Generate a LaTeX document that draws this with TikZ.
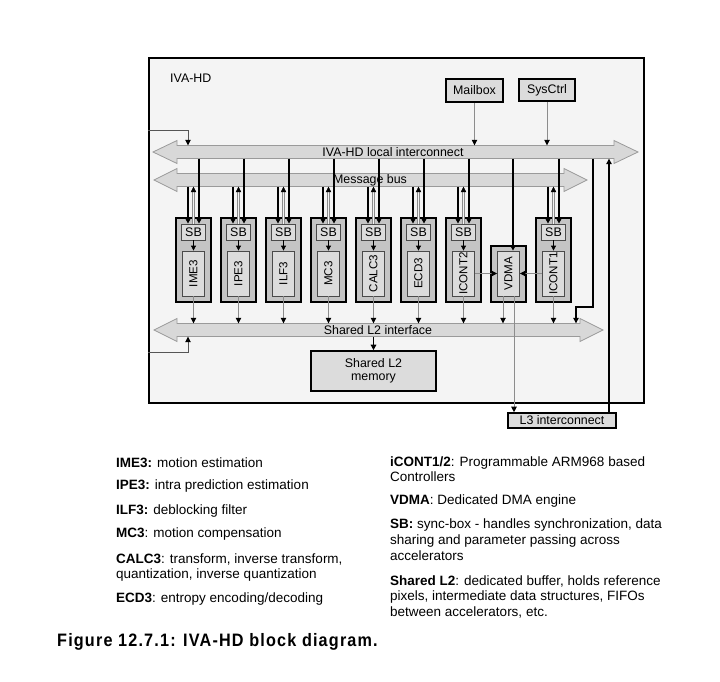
\documentclass[tikz,border=0pt]{standalone}
\usepackage{fontspec}
\usepackage{graphicx}
\setmainfont{Liberation Sans}
\newfontfamily\capfont[FakeStretch=0.9,LetterSpace=6.5]{Liberation Sans}
\usetikzlibrary{arrows.meta}
\definecolor{framefill}{HTML}{F4F4F4}
\definecolor{busfill}{HTML}{D8D8D8}
\definecolor{busline}{HTML}{9A9A9A}
\definecolor{blockfill}{HTML}{C4C4C4}
\definecolor{innerfill}{HTML}{DCDCDC}
\definecolor{innerline}{HTML}{4A4A4A}
\definecolor{thinline}{HTML}{555555}
\definecolor{grayline}{HTML}{8C8C8C}
\newcommand\lblf{\fontsize{12.4}{13.5}\selectfont}
\newcommand\rotf{\fontsize{11.6}{13}\selectfont}
\newcommand\legf{\fontsize{13.5}{16}\selectfont}
\tikzset{
  framebox/.style={draw=black, line width=2.2pt, fill=framefill, inner sep=0pt},
  blockbox/.style={draw=black, line width=1.6pt, fill=blockfill, minimum width=35pt, minimum height=84pt, inner sep=0pt},
  innerbox/.style={draw=innerline, line width=0.8pt, fill=innerfill, inner sep=0pt, font=\lblf},
  extbox/.style={draw=black, line width=1.6pt, fill=innerfill, inner sep=0pt, font=\lblf},
  bus/.style={draw=busline, line width=0.8pt, fill=busfill},
  busshaft/.style={inner sep=0pt, minimum height=13pt},
  buslbl/.style={anchor=base, inner sep=0pt, font=\lblf},
  heavy/.style={draw=black, line width=1.5pt, -{Triangle[length=5.5pt,width=5.5pt]}},
  darkarrow/.style={draw=black, line width=1.1pt, -{Triangle[length=5.5pt,width=5.5pt]}},
  lightarrow/.style={draw=grayline, line width=0.8pt, -{Triangle[length=5.5pt,width=5.5pt,color=black]}},
  smallarrow/.style={draw=black, line width=0.8pt, -{Triangle[length=5pt,width=5pt]}},
  extarrow/.style={draw=thinline, line width=0.8pt, -{Triangle[length=5.5pt,width=5.5pt,color=black]}},
  uparrow/.style={draw=grayline, line width=0.5pt, double=framefill, double distance=1.3pt, -{Triangle[length=5.5pt,width=5.5pt,color=black]}},
  leg/.style={anchor=base west, inner sep=0pt, font=\legf},
}
\begin{document}
\begin{tikzpicture}[x=1pt,y=-1pt]
\useasboundingbox (0,0) rectangle (720,682);
\fill[white] (0,0) rectangle (720,682);

% outer frame
\node[framebox, anchor=north west, minimum width=495pt, minimum height=345pt] (frame) at (148,57) {};
\node[anchor=base west, inner sep=0pt, font=\lblf] (title) at (170,83) {IVA-HD};

% buses
\draw[bus] (153,152) -- (177,140.5) -- (177,145.5) -- (614,145.5) -- (614,140.5) -- (638,152)
  -- (614,163.5) -- (614,158.5) -- (177,158.5) -- (177,163.5) -- cycle;
\node[busshaft, minimum width=437pt] (iva) at (395.5,152) {};
\node[buslbl] (ivalbl) at (393,156.5) {IVA-HD local interconnect};

\draw[bus] (154,180) -- (177,168.5) -- (177,173.5) -- (564,173.5) -- (564,168.5) -- (587,180)
  -- (564,191.5) -- (564,186.5) -- (177,186.5) -- (177,191.5) -- cycle;
\node[busshaft, minimum width=387pt] (msg) at (370.5,180) {};
\node[buslbl] (msglbl) at (370,183) {Message bus};

\draw[bus] (154,330) -- (177,318.5) -- (177,323.5) -- (580,323.5) -- (580,318.5) -- (603,330)
  -- (580,341.5) -- (580,336.5) -- (177,336.5) -- (177,341.5) -- cycle;
\node[busshaft, minimum width=403pt] (sl2) at (378.5,330) {};
\node[buslbl] (sl2lbl) at (378,334.3) {Shared L2 interface};

% top boxes
\node[extbox, minimum width=57pt, minimum height=23pt] (mb) at (474.5,90.5) {Mailbox};
\node[extbox, minimum width=56pt, minimum height=22pt] (sc) at (547,90) {SysCtrl};
\draw[lightarrow] (mb.south) -- (mb.south |- iva.north);
\draw[lightarrow] (sc.south) -- (sc.south |- iva.north);

% memory and L3
\node[extbox, minimum width=125pt, minimum height=40pt, align=center] (mem) at (373.5,371) {Shared L2\\memory};
\node[extbox, minimum width=108pt, minimum height=15pt] (l3) at (562,420.5) {L3 interconnect};

% accelerator blocks
\foreach \i/\nm in {0/IME3,1/IPE3,2/ILF3,3/MC3,4/CALC3,5/ECD3,6/ICONT2,8/ICONT1} {
  \pgfmathsetmacro\cx{193.5+45*\i}
  \node[blockbox] (blk\i) at (\cx,260) {};
  \node[innerbox, minimum width=24pt, minimum height=16pt] (sb\i) at (\cx,232) {SB};
  \node[innerbox, minimum width=22pt, minimum height=45pt, font=\rotf] (fn\i) at (\cx,273.5) {\rotatebox{90}{\nm}};
  \coordinate (a\i) at ([xshift=-5.5pt]sb\i.north);
  \coordinate (c\i) at ([xshift=5.5pt]sb\i.north);
  \draw[heavy] (a\i |- msg.south) -- (a\i);
  \draw[heavy] (c\i |- iva.south) -- (c\i);
  \draw[uparrow] (sb\i.north) -- (sb\i.north |- msg.south);
  \draw[smallarrow] (sb\i.south) -- (fn\i.north);
  \draw[lightarrow] (fn\i.south) -- (fn\i.south |- sl2.north);
}

% VDMA
\node[blockbox, minimum height=56pt] (blk7) at (508.5,274) {};
\node[innerbox, minimum width=22pt, minimum height=45pt, font=\rotf] (fn7) at (508.5,273.5) {\rotatebox{90}{VDMA}};
\coordinate (v1) at ([xshift=4.5pt]fn7.north);
\draw[heavy] (v1 |- iva.south) -- (v1);
\coordinate (v2) at ([xshift=-5.5pt]fn7.south);
\coordinate (v3) at ([xshift=5.5pt]fn7.south);
\draw[lightarrow] (v2) -- (v2 |- sl2.north);
\draw[lightarrow] (v3) -- (v3 |- l3.north);
\draw[lightarrow] (fn6.east) -- (fn7.west);
\draw[lightarrow] (fn8.west) -- (fn7.east);

% memory link
\draw[heavy] (sl2.south -| mem.north) -- (mem.north);

% L3 to interconnect
\coordinate (q) at ([xshift=47pt]l3.north);
\draw[darkarrow] (q) -- (q |- iva.south);

% interconnect to shared L2
\coordinate (r1) at (593,307);
\coordinate (r2) at (576,307);
\draw[darkarrow] (r1 |- iva.south) -- (r1) -- (r2) -- (r2 |- sl2.north);

% external links on the left
\coordinate (e1) at (148,130);
\coordinate (e2) at (148,352);
\draw[extarrow] (e1) -| (a0 |- iva.north);
\draw[extarrow] (e2) -| (a0 |- sl2.south);

% legend, left column
\node[leg] (g1) at (116,467) {\textbf{IME3:} motion estimation};
\node[leg] (g2) at (116,489.5) {\textbf{IPE3:} intra prediction estimation};
\node[leg] (g3) at (116,514) {\textbf{ILF3:} deblocking filter};
\node[leg] (g4) at (116,537.5) {\textbf{MC3}: motion compensation};
\node[leg] (g5) at (116,563) {\textbf{CALC3}: transform, inverse transform,};
\node[leg] (g6) at (116,578) {quantization, inverse quantization};
\node[leg] (g7) at (116,602) {\textbf{ECD3}: entropy encoding/decoding};

% legend, right column
\node[leg] (h1) at (390,466) {\textbf{iCONT1/2}: Programmable ARM968 based};
\node[leg] (h2) at (390,481.5) {Controllers};
\node[leg] (h3) at (390,504.5) {\textbf{VDMA}: Dedicated DMA engine};
\node[leg] (h4) at (390,528.5) {\textbf{SB:} sync-box - handles synchronization, data};
\node[leg] (h5) at (390,544.5) {sharing and parameter passing across};
\node[leg] (h6) at (390,560) {accelerators};
\node[leg] (h7) at (390,585) {\textbf{Shared L2}: dedicated buffer, holds reference};
\node[leg] (h8) at (390,600.5) {pixels, intermediate data structures, FIFOs};
\node[leg] (h9) at (390,616.5) {between accelerators, etc.};

% caption
\node[anchor=base west, inner sep=0pt, font=\capfont\bfseries\fontsize{18}{20}\selectfont] (cap) at (57,646) {Figure 12.7.1: IVA-HD block diagram.};
\end{tikzpicture}
\end{document}
